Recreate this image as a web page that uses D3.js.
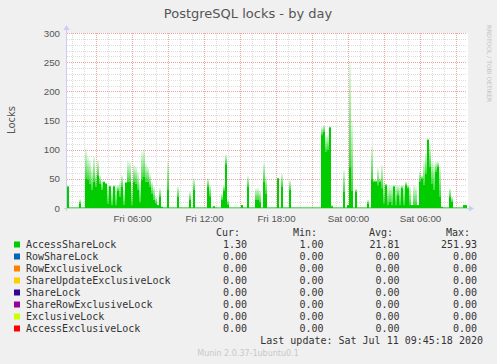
<!DOCTYPE html>
<html>
<head>
<meta charset="utf-8">
<script src="https://cdn.jsdelivr.net/npm/d3@7"></script>
<style>
body{margin:0;background:#f0f0f0;}
svg{display:block;font-family:"DejaVu Sans",sans-serif;}
.mono{font-family:"DejaVu Sans Mono",monospace;}
</style>
</head>
<body>
<div id="canvas"></div>
<script>
// one sample every 10 minutes, starting Fri 10 Jul 2020 00:35
var startTime = new Date(2020, 6, 10, 0, 35);
var stepMin = 10;

// highest value in each 10 min slot
var peaks = [37,1,1,1,1,1,15,1,1,102, 88,82,68,88,60,82,56,48,45,42,
  39,39,31,39,39,39,45,56,31,45, 81,79,42,74,71,62,45,97,100,77,
  71,59,45,37,19,5,34,2,1,1, 79,1,1,1,1,37,1,1,1,1,
  1,28,1,51,1,1,1,1,1,1, 51,40,1,3,1,1,1,25,39,92,
  14,1,1,1,1,1,1,5,1,1, 55,1,1,1,34,34,30,1,77,55,
  1,1,1,1,1,51,1,59,1,1, 1,48,1,1,1,1,1,1,1,1,
  1,1,1,1,1,1,1,139,142,125, 125,140,5,1,1,1,1,1,65,1,
  5,252,150,1,33,1,1,1,1,1, 14,1,105,48,48,68,51,74,45,42,
  37,39,39,39,39,39,39,39,39,45, 39,37,5,39,37,5,62,56,79,94,
  118,108,79,77,79,79,71,2,1,1, 1,34,19,1,1,1,1,1,5,5];

// level the slot stays at most of the time (solid part)
var solids = [37,1,1,1,1,1,8,1,1,51, 48,42,31,45,37,56,42,31,45,42,
  8,37,5,37,5,30,19,37,6,43, 45,45,5,45,42,31,10,48,54,45,
  45,37,25,14,8,5,19,2,1,1, 31,1,1,1,1,19,1,1,1,1,
  1,14,1,31,1,1,1,1,1,1, 37,20,1,3,1,1,1,14,30,75,
  6,1,1,1,1,1,1,5,1,1, 37,1,1,1,14,14,10,1,45,25,
  1,1,1,1,1,51,1,37,1,1, 1,31,1,1,1,1,1,1,1,1,
  1,1,1,1,1,1,1,125,131,97, 100,138,3,1,1,1,1,1,28,1,
  5,70,30,1,28,1,1,1,1,1, 8,1,50,45,45,39,45,34,8,39,
  5,11,5,37,5,22,5,34,5,39, 34,5,5,5,5,5,45,50,40,59,
  117,71,42,31,62,71,19,2,1,1, 1,19,11,1,1,1,1,1,5,5];

var yTicks = [0, 50, 100, 150, 200, 250, 300];

var lockNames = ['AccessShareLock','RowShareLock','RowExclusiveLock','ShareUpdateExclusiveLock',
  'ShareLock','ShareRowExclusiveLock','ExclusiveLock','AccessExclusiveLock'];
var lockColors = ['#00CC00','#0066B3','#FF8000','#FFCC00','#330099','#990099','#CCFF00','#FF0000'];
var curVals = ['1.30','0.00','0.00','0.00','0.00','0.00','0.00','0.00'];
var minVals = ['1.00','0.00','0.00','0.00','0.00','0.00','0.00','0.00'];
var avgVals = ['21.81','0.00','0.00','0.00','0.00','0.00','0.00','0.00'];
var maxVals = ['251.93','0.00','0.00','0.00','0.00','0.00','0.00','0.00'];

var W = 497, H = 364;
var m = {t:33, l:67},
    w = 400,
    h = 175;

var svg = d3.select('#canvas')
    .append('svg')
    .attr('width', W)
    .attr('height', H);

var endTime = d3.timeMinute.offset(startTime, 5 * w);
var x = d3.scaleTime().domain([startTime, endTime]).range([m.l, m.l + w]);
var y = d3.scaleLinear().domain([0, 300]).range([m.t + h, m.t]);

// title
svg.append('text')
    .attr('x', 248).attr('y', 18)
    .attr('text-anchor', 'middle')
    .style('font-size', '13px')
    .style('fill', '#555')
    .text('PostgreSQL locks - by day');

svg.append('text')
    .attr('transform', 'translate(487,25) rotate(90)')
    .style('font-size', '6px')
    .style('fill', '#c4c4c4')
    .text('RRDTOOL / TOBI OETIKER');

// white canvas
svg.append('rect')
    .attr('x', m.l).attr('y', m.t)
    .attr('width', w + 1).attr('height', h)
    .style('fill', '#fff');

// grid: minor first, red major on top
var grid = svg.append('g').attr('class', 'grid');
var hours = x.ticks(d3.timeHour.every(1));
var isMajorT = function(d){ return d.getHours() % 3 == 0; };
var isMajorV = function(d){ return d % 50 == 0; };

grid.selectAll('line.v')
    .data(hours.filter(function(d){ return !isMajorT(d); }).concat(hours.filter(isMajorT)))
    .enter()
    .append('line').attr('class', 'v')
    .attr('x1', function(d){ return Math.round(x(d)) + 0.5; })
    .attr('x2', function(d){ return Math.round(x(d)) + 0.5; })
    .attr('y1', m.t).attr('y2', m.t + h)
    .style('stroke', function(d){ return isMajorT(d) ? '#f2a0a0' : '#dcdcdc'; })
    .style('stroke-dasharray', '1,1');

var levels = d3.range(10, 301, 10);
grid.selectAll('line.h')
    .data(levels.filter(function(d){ return !isMajorV(d); }).concat(levels.filter(isMajorV)))
    .enter()
    .append('line').attr('class', 'h')
    .attr('x1', m.l).attr('x2', m.l + w)
    .attr('y1', function(d){ return Math.round(y(d)) + 0.5; })
    .attr('y2', function(d){ return Math.round(y(d)) + 0.5; })
    .style('stroke', function(d){ return isMajorV(d) ? '#f2a0a0' : '#dcdcdc'; })
    .style('stroke-dasharray', '1,1');

// fading for the spiky part
var grad = svg.append('defs').append('linearGradient')
    .attr('id', 'fade')
    .attr('x1', 0).attr('y1', 1).attr('x2', 0).attr('y2', 0);
grad.append('stop').attr('offset', 0).attr('stop-color', '#00CC00').attr('stop-opacity', 0.75);
grad.append('stop').attr('offset', 1).attr('stop-color', '#00CC00').attr('stop-opacity', 0.08);

var samples = peaks.map(function(p, i){
    return {
        t0: d3.timeMinute.offset(startTime, i * stepMin),
        t1: d3.timeMinute.offset(startTime, (i + 1) * stepMin),
        peak: p,
        solid: solids[i]
    };
});

var bars = svg.append('g').attr('class', 'bars');

bars.selectAll('rect.peak')
    .data(samples.filter(function(d){ return d.peak > d.solid; }))
    .enter()
    .append('rect').attr('class', 'peak')
    .attr('x', function(d){ return x(d.t0); })
    .attr('width', function(d){ return x(d.t1) - x(d.t0); })
    .attr('y', function(d){ return y(d.peak); })
    .attr('height', function(d){ return y(d.solid) - y(d.peak); })
    .style('fill', 'url(#fade)');

bars.selectAll('rect.solid')
    .data(samples)
    .enter()
    .append('rect').attr('class', 'solid')
    .attr('x', function(d){ return x(d.t0); })
    .attr('width', function(d){ return x(d.t1) - x(d.t0); })
    .attr('y', function(d){ return y(d.solid); })
    .attr('height', function(d){ return y(0) - y(d.solid); })
    .style('fill', '#00CC00');

// axes
var yAxis = d3.axisLeft(y).tickValues(yTicks).tickSize(0).tickPadding(7);
var gy = svg.append('g')
    .attr('transform', 'translate(' + m.l + ',0)')
    .call(yAxis);
gy.select('.domain').remove();
gy.selectAll('text').style('font-size', '9.7px').style('fill', '#555');

var xAxis = d3.axisBottom(x)
    .ticks(d3.timeHour.every(6))
    .tickFormat(d3.timeFormat('%a %H:%M'))
    .tickSize(0).tickPadding(7);
var gx = svg.append('g')
    .attr('transform', 'translate(0,' + (m.t + h) + ')')
    .call(xAxis);
gx.select('.domain').remove();
gx.selectAll('text').style('font-size', '9.7px').style('fill', '#555');

// axis lines with arrows
svg.append('line')
    .attr('x1', m.l - 0.5).attr('x2', m.l - 0.5)
    .attr('y1', m.t + h + 3).attr('y2', m.t - 4)
    .style('stroke', '#ccccf4');
svg.append('path')
    .attr('d', 'M' + (m.l - 3.5) + ',' + (m.t - 3) + 'L' + (m.l - 0.5) + ',' + (m.t - 8) + 'L' + (m.l + 2.5) + ',' + (m.t - 3) + 'Z')
    .style('fill', '#ccccf4');
svg.append('line')
    .attr('x1', m.l - 3).attr('x2', m.l + w + 3)
    .attr('y1', m.t + h + 0.5).attr('y2', m.t + h + 0.5)
    .style('stroke', '#b8e0b8');
svg.append('path')
    .attr('d', 'M' + (m.l + w + 2) + ',' + (m.t + h - 2.5) + 'L' + (m.l + w + 7) + ',' + (m.t + h + 0.5) + 'L' + (m.l + w + 2) + ',' + (m.t + h + 3.5) + 'Z')
    .style('fill', '#ccccf4');

// y label
svg.append('text')
    .attr('transform', 'translate(15,120) rotate(-90)')
    .attr('text-anchor', 'middle')
    .style('font-size', '10px')
    .style('fill', '#555')
    .text('Locks');

// legend
var lg = svg.append('g').attr('class', 'mono').style('font-size', '10px').style('fill', '#333');

var heads = [['Cur:', 240], ['Min:', 317], ['Avg:', 393], ['Max:', 470]];
lg.selectAll('text.head')
    .data(heads)
    .enter()
    .append('text').attr('class', 'head')
    .attr('x', function(d){ return d[1]; })
    .attr('y', 236)
    .attr('text-anchor', 'end')
    .text(function(d){ return d[0]; });

var rows = lg.selectAll('g.row')
    .data(lockNames)
    .enter()
    .append('g').attr('class', 'row')
    .attr('transform', function(d, i){ return 'translate(0,' + (248 + i * 12) + ')'; });

rows.append('rect')
    .attr('x', 14).attr('y', -6.5)
    .attr('width', 6).attr('height', 6)
    .style('fill', function(d, i){ return lockColors[i]; });

rows.append('text')
    .attr('x', 26)
    .text(function(d){ return d; });

var cols = [[curVals, 247], [minVals, 323.5], [avgVals, 399.5], [maxVals, 477]];
cols.forEach(function(c){
    rows.append('text')
        .attr('x', c[1])
        .attr('text-anchor', 'end')
        .text(function(d, i){ return c[0][i]; });
});

lg.append('text')
    .attr('x', 483).attr('y', 344)
    .attr('text-anchor', 'end')
    .text('Last update: Sat Jul 11 09:45:18 2020');

svg.append('text')
    .attr('x', 248).attr('y', 356)
    .attr('text-anchor', 'middle')
    .style('font-size', '8px')
    .style('fill', '#c8c8c8')
    .text('Munin 2.0.37-1ubuntu0.1');
</script>
</body>
</html>
